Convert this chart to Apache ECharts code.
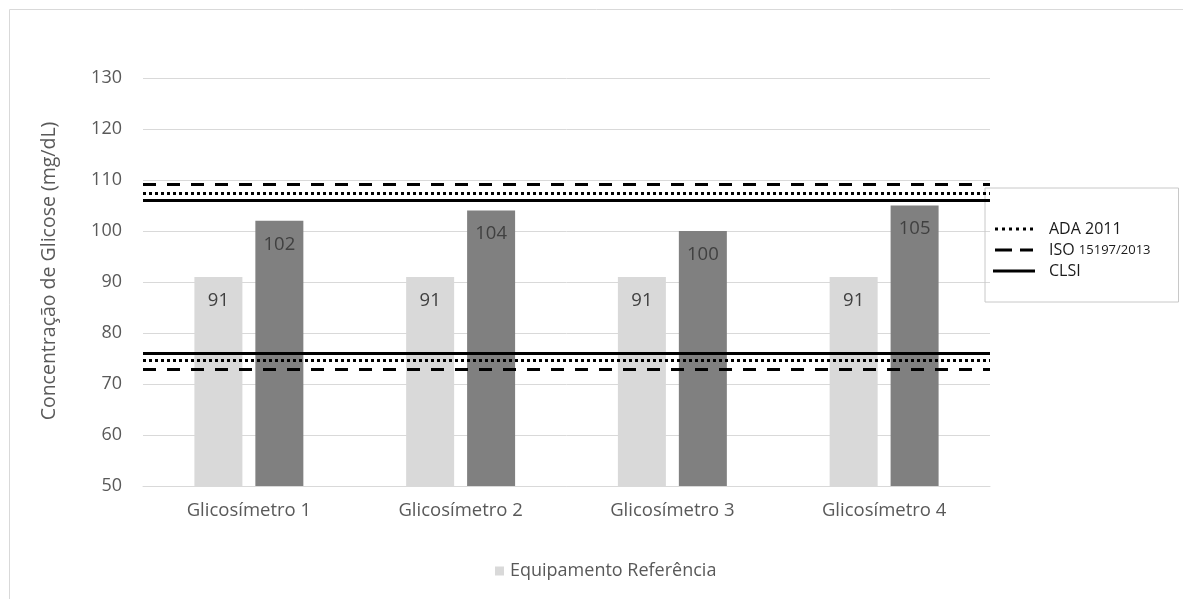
<!DOCTYPE html>
<html>
<head>
<meta charset="utf-8">
<script src="https://cdn.jsdelivr.net/npm/echarts@6/dist/echarts.min.js"></script>
<style>
  html, body { margin: 0; padding: 0; background: #fff; }
  #chart { width: 1183px; height: 599px; }
</style>
</head>
<body>
<div id="chart"></div>
<script>
// Glucose meter readings versus the reference analyser, with acceptance limits
const categories = ['Glicosímetro 1', 'Glicosímetro 2', 'Glicosímetro 3', 'Glicosímetro 4'];
const referenceValues = [91, 91, 91, 91];
const meterValues = [102, 104, 100, 105];
const yTicks = { min: 50, max: 130, interval: 10 };

// Acceptance limits [lower, upper] in mg/dL
const adaLimits = [74.6, 107.4];
const isoLimits = [72.8, 109.2];
const clsiLimits = [76, 106];

const FONT = 'Open Sans';
const TEXT = '#595959';

// Legend glyphs drawn as paths so the dot / dash pattern shows in the key
const ICON_DOTTED = 'path://M0 0h3v3h-3z M7 0h3v3h-3z M14 0h3v3h-3z M21 0h3v3h-3z M28 0h3v3h-3z M35 0h3v3h-3z';
const ICON_DASHED = 'path://M0 0h17v3h-17z M25 0h13v3h-13z';
const ICON_SOLID = 'path://M0 0h42v3h-42z';

function limitSeries(name, limits, type, width) {
  return {
    name: name,
    type: 'line',
    data: [],
    symbol: 'none',
    lineStyle: { color: '#000', width: width, type: type },
    itemStyle: { color: '#000' },
    markLine: {
      silent: true,
      symbol: 'none',
      label: { show: false },
      lineStyle: { color: '#000', width: width, type: type },
      data: limits.map(v => ({ yAxis: v }))
    }
  };
}

const chart = echarts.init(document.getElementById('chart'));
chart.setOption({
  animation: false,
  textStyle: { fontFamily: FONT },
  graphic: [{
    type: 'rect',
    shape: { x: 9.5, y: 9.5, width: 1300, height: 700 },
    style: { fill: 'none', stroke: '#d9d9d9', lineWidth: 1 },
    silent: true
  }],
  grid: { left: 143, right: 193, top: 78, bottom: 113 },
  legend: [{
    data: [{ name: 'Equipamento Referência', icon: 'rect' }],
    left: 490, top: 557,
    itemWidth: 9, itemHeight: 9, itemGap: 10,
    textStyle: { color: TEXT, fontSize: 18, fontFamily: FONT, padding: [0, 0, 0, 1] }
  }, {
    data: [
      { name: 'ADA 2011', icon: ICON_DOTTED },
      { name: 'ISO 15197/2013', icon: ICON_DASHED },
      { name: 'CLSI', icon: ICON_SOLID }
    ],
    orient: 'vertical',
    left: 985, top: 188,
    padding: [33, 28, 23, 8],
    itemGap: 5,
    itemWidth: 42, itemHeight: 3,
    borderColor: '#c8c8c8', borderWidth: 1,
    textStyle: {
      color: '#1a1a1a', fontSize: 16, fontFamily: FONT, padding: [0, 0, 0, 9],
      rich: { s: { fontSize: 13, color: '#1a1a1a', fontFamily: FONT } }
    },
    formatter: n => n === 'ISO 15197/2013' ? 'ISO {s|15197/2013}' : n
  }],
  xAxis: {
    type: 'category',
    data: categories,
    axisLine: { lineStyle: { color: '#d9d9d9' } },
    axisTick: { show: false },
    axisLabel: { color: TEXT, fontSize: 18.5, margin: 15 }
  },
  yAxis: {
    type: 'value',
    min: yTicks.min, max: yTicks.max, interval: yTicks.interval,
    name: 'Concentração de Glicose (mg/dL)',
    nameLocation: 'middle',
    nameGap: 84,
    nameTextStyle: { color: TEXT, fontSize: 19.5, padding: [0, 0, 0, 22] },
    axisLine: { show: false },
    axisTick: { show: false },
    axisLabel: { color: TEXT, fontSize: 18, margin: 21 },
    splitLine: { lineStyle: { color: '#d9d9d9' } }
  },
  series: [{
    name: 'Equipamento Referência',
    type: 'bar',
    data: referenceValues,
    barWidth: 48,
    barGap: '27%',
    itemStyle: { color: '#d9d9d9' },
    label: { show: true, position: 'insideTop', distance: 14, color: '#404040', fontSize: 18.5 }
  }, {
    name: 'Glicosímetro',
    type: 'bar',
    data: meterValues,
    barWidth: 48,
    itemStyle: { color: '#808080' },
    label: { show: true, position: 'insideTop', distance: 14, color: '#404040', fontSize: 18.5 }
  },
  limitSeries('ADA 2011', adaLimits, [3, 3], 3),
  limitSeries('ISO 15197/2013', isoLimits, [13, 11], 3),
  limitSeries('CLSI', clsiLimits, 'solid', 3)
  ]
});
</script>
</body>
</html>
